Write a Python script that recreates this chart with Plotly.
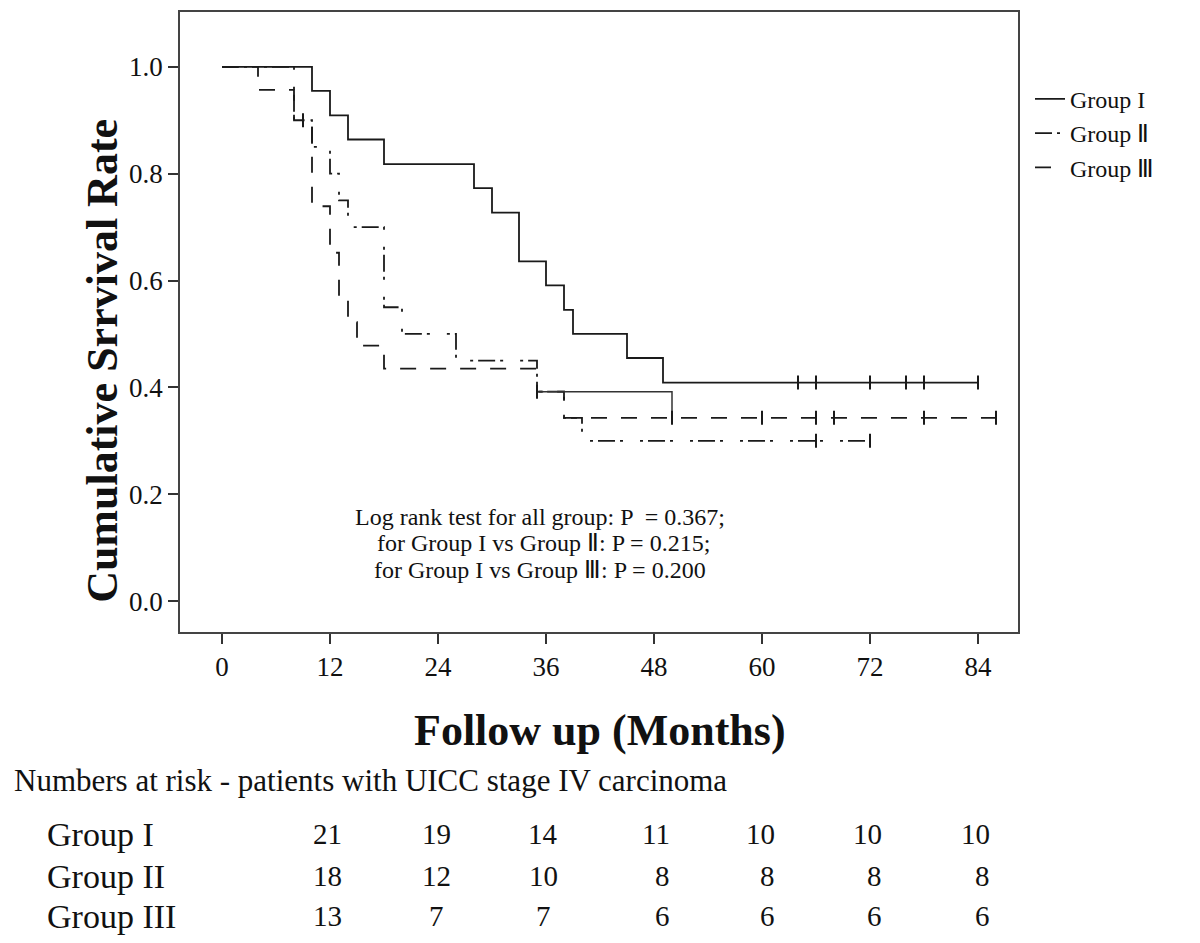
import plotly.graph_objects as go

# ---------------- data ----------------
g1_time = [0, 10, 12, 14, 18, 28, 30, 33, 36, 38, 39, 45, 49, 84]
g1_surv = [1.0, 0.955, 0.909, 0.864, 0.818, 0.773, 0.727, 0.636, 0.591, 0.545, 0.5, 0.455, 0.409, 0.409]
g1_cens_time = [64, 66, 72, 76, 78, 84]
g1_cens_surv = [0.409, 0.409, 0.409, 0.409, 0.409, 0.409]

g2_time = [0, 8, 10, 12, 13, 14, 18, 20, 26, 35, 38, 40, 72]
g2_surv = [1.0, 0.9, 0.85, 0.8, 0.75, 0.7, 0.55, 0.5, 0.45, 0.392, 0.343, 0.30, 0.30]
g2_cens_time = [9, 66, 72]
g2_cens_surv = [0.9, 0.30, 0.30]

g3_time = [0, 4, 8, 10, 12, 13, 14, 15, 18, 35, 38, 86]
g3_surv = [1.0, 0.957, 0.9, 0.739, 0.652, 0.565, 0.522, 0.478, 0.435, 0.392, 0.343, 0.343]
g3_cens_time = [35, 50, 60, 66, 68, 78, 86]
g3_cens_surv = [0.392, 0.343, 0.343, 0.343, 0.343, 0.343, 0.343]
# solid-looking segment in the original (overlapping curves)
g3_seg_time = [35, 50, 50]
g3_seg_surv = [0.392, 0.392, 0.343]

x_ticks = [0, 12, 24, 36, 48, 60, 72, 84]
y_ticks = [0.0, 0.2, 0.4, 0.6, 0.8, 1.0]
y_tick_labels = ["0.0", "0.2", "0.4", "0.6", "0.8", "1.0"]

legend_names = ["Group I", "Group Ⅱ", "Group Ⅲ"]
stat_lines = ["Log rank test for all group: P  = 0.367;",
              " for Group I vs Group Ⅱ: P = 0.215;",
              "for Group I vs Group Ⅲ: P = 0.200"]

risk_title = "Numbers at risk - patients with UICC stage IV carcinoma"
risk_groups = ["Group I", "Group II", "Group III"]
risk_g1 = [21, 19, 14, 11, 10, 10, 10]
risk_g2 = [18, 12, 10, 8, 8, 8, 8]
risk_g3 = [13, 7, 7, 6, 6, 6, 6]

# ---------------- layout helpers ----------------
OFF = 8                      # default page body margin
W, H = 1200 - OFF, 943 - OFF
L, R, T, B = 180, 1018, 10, 632   # plot frame in screenshot pixels
FONT = "Liberation Serif"
INK = "#1a1a1a"
TXT = "#111111"


def px(xp):
    return (xp - L) / (R - L)


def py(yp):
    return (B - yp) / (B - T)


def note(text, xp, yp, size, xanchor="center", bold=False, angle=0):
    return dict(text=f"<b>{text}</b>" if bold else text, x=px(xp), y=py(yp),
                xref="paper", yref="paper", xanchor=xanchor, yanchor="middle",
                textangle=angle, showarrow=False,
                font=dict(family=FONT, size=size, color=TXT))


fig = go.Figure()

line_w = 1.8
fig.add_trace(go.Scatter(x=g1_time, y=g1_surv, mode="lines", line_shape="hv",
                         line=dict(color=INK, width=line_w), name=legend_names[0]))
fig.add_trace(go.Scatter(x=g2_time, y=g2_surv, mode="lines", line_shape="hv",
                         line=dict(color=INK, width=line_w, dash="17px,5px,3px,17px,3px,5px"),
                         name=legend_names[1]))
fig.add_trace(go.Scatter(x=g3_time, y=g3_surv, mode="lines", line_shape="hv",
                         line=dict(color=INK, width=line_w, dash="16px,14px"),
                         name=legend_names[2]))
fig.add_trace(go.Scatter(x=g3_seg_time, y=g3_seg_surv, mode="lines", line_shape="hv",
                         line=dict(color="#333333", width=1.5), showlegend=False))

for ct, cs in [(g1_cens_time, g1_cens_surv), (g2_cens_time, g2_cens_surv), (g3_cens_time, g3_cens_surv)]:
    fig.add_trace(go.Scatter(x=ct, y=cs, mode="markers", showlegend=False,
                             marker=dict(symbol="line-ns", size=10,
                                         line=dict(color=INK, width=2))))

x_range = [(L - 222) / 9, (R - 222) / 9]
y_range = [(601 - B) / 536, (601 - T) / 536]

fig.update_xaxes(range=x_range, tickvals=x_ticks, ticks="outside", ticklen=10,
                 tickcolor="#333", tickwidth=1.5, showline=True, mirror=True,
                 linecolor="#444", linewidth=1.5, showgrid=False, zeroline=False,
                 tickfont=dict(family=FONT, size=27, color=TXT))
fig.update_yaxes(range=y_range, tickvals=y_ticks, ticktext=y_tick_labels, ticks="outside",
                 ticklen=10, tickcolor="#333", tickwidth=1.5, showline=True, mirror=True,
                 linecolor="#444", linewidth=1.5, showgrid=False, zeroline=False,
                 tickfont=dict(family=FONT, size=27, color=TXT))

annotations = []
annotations.append(note("Cumulative Srrvival Rate", 103, 360, 44, bold=True, angle=-90))
annotations.append(note("Follow up (Months)", 600, 731, 44, bold=True))
for s, yp in zip(stat_lines, [517, 543, 570]):
    annotations.append(note(s, 540, yp, 24))
annotations.append(note(risk_title, 12, 781, 31, xanchor="left"))

col_x = [327, 436, 543, 658, 763, 870, 978]
row_y = [835, 877, 917]
for name, vals, yp in zip(risk_groups, [risk_g1, risk_g2, risk_g3], row_y):
    annotations.append(note(name, 45, yp, 34, xanchor="left"))
    for j, v in enumerate(vals):
        if j >= 3:
            annotations.append(note(str(v), col_x[j] + 14, yp, 29, xanchor="right"))
        else:
            annotations.append(note(str(v), col_x[j], yp, 29))

fig.update_layout(
    width=W, height=H,
    margin=dict(l=L - OFF, r=(W + OFF) - R, t=T - OFF, b=(H + OFF) - B),
    paper_bgcolor="white", plot_bgcolor="white",
    annotations=annotations,
    showlegend=True,
    legend=dict(x=px(1030), y=py(75), xanchor="left", yanchor="top",
                font=dict(family=FONT, size=24, color=TXT),
                bgcolor="rgba(0,0,0,0)", itemwidth=30, tracegroupgap=0),
)

fig.write_html("out.html")
